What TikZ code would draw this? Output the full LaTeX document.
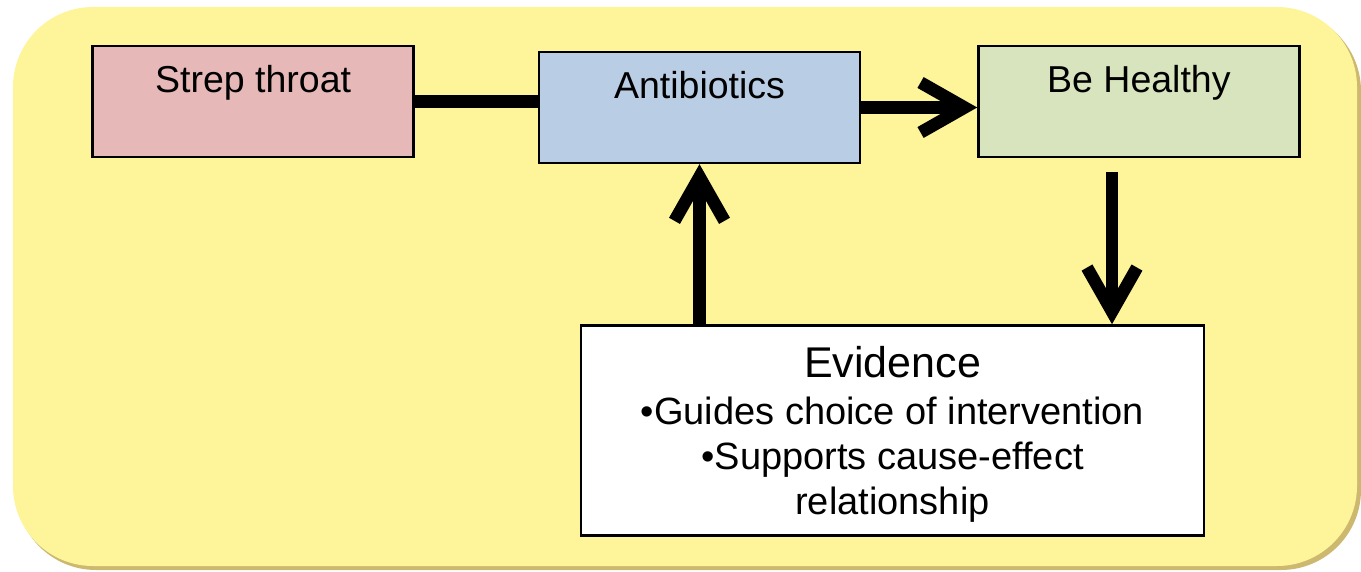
\documentclass[tikz,border=0pt]{standalone}
\usepackage{fontspec}
\setmainfont{Liberation Sans}
\usetikzlibrary{positioning}
\usetikzlibrary{arrows.meta}

\definecolor{panel}{RGB}{254,244,154}
\definecolor{panelshade}{RGB}{205,184,112}
\definecolor{strepred}{RGB}{230,185,184}
\definecolor{drugblue}{RGB}{185,205,229}
\definecolor{healthgreen}{RGB}{215,228,189}

\begin{document}
\begin{tikzpicture}[
    x=0.5pt, y=-0.5pt,
    stepbox/.style={draw=black, line width=1.2pt, minimum width=160.5pt,
        inner xsep=0pt, inner ysep=0pt, text height=23.5pt, text depth=32pt,
        font=\fontsize{18.75}{22.5}\selectfont},
    evidencebox/.style={draw=black, line width=1.2pt, fill=white, align=center,
        minimum width=311.5pt, inner ysep=0pt, font=\fontsize{19}{22.5}\selectfont},
    flow/.style={line width=6.25pt, -{Straight Barb[length=22pt, width=25pt]}},
    link/.style={line width=6.5pt}
    ]
    %Background
    \useasboundingbox (0,0) rectangle (1361,572);
    \fill[panelshade, rounded corners=40pt] (16,11) rectangle (1361,570);
    \fill[panel, rounded corners=40pt] (13,7) rectangle (1357,566);

    %Nodes
    \node[stepbox, fill=drugblue] (antibiotics) at (699.5,107.5) {Antibiotics};
    \node[stepbox, fill=strepred] (strep) [left=61.5pt of antibiotics, yshift=3pt] {Strep throat};
    \node[stepbox, fill=healthgreen] (healthy) [right=58pt of antibiotics, yshift=3pt] {Be Healthy};

    \node[evidencebox] (evidence) [below=80pt of antibiotics, xshift=96.5pt] {%
        \rule{0pt}{26pt}{\fontsize{21.5}{22.5}\selectfont Evidence}\\[1pt]
        \textbullet Guides choice of intervention\\
        \textbullet Supports cause-effect\\
        relationship\rule[-10.5pt]{0pt}{10.5pt}};

    \coordinate (drop) at (1112,172);

    %Lines
    \draw[link] (strep.east) -- (strep.east -| antibiotics.west);
    \draw[flow] (antibiotics.east) -- (antibiotics.east -| healthy.west);
    \draw[flow] (antibiotics.south |- evidence.north) -- (antibiotics.south);
    \draw[flow] (drop) -- (drop |- evidence.north);

\end{tikzpicture}
\end{document}
